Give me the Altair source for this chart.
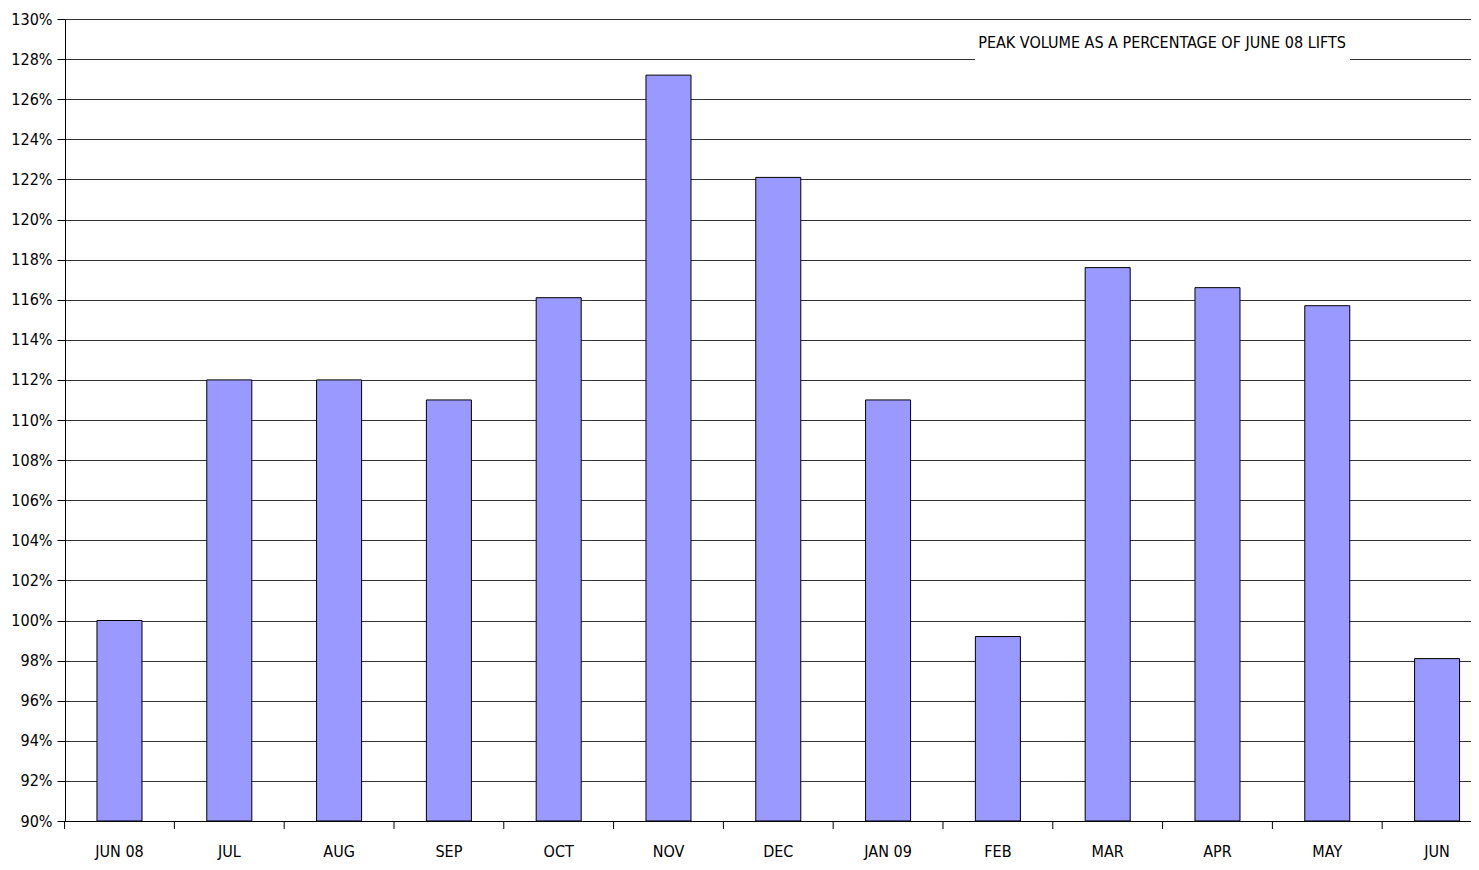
import altair as alt
import pandas as pd

months = ["JUN 08", "JUL", "AUG", "SEP", "OCT", "NOV", "DEC", "JAN 09",
          "FEB", "MAR", "APR", "MAY", "JUN"]
values = [100.0, 112.0, 112.0, 111.0, 116.1, 127.2, 122.1, 111.0,
          99.2, 117.6, 116.6, 115.7, 98.1]
y_ticks = list(range(90, 131, 2))
note = "PEAK VOLUME AS A PERCENTAGE OF JUNE 08 LIFTS"

df = pd.DataFrame({"month": months, "value": values})

FONT = "DejaVu Sans Condensed"
W, H = 1406, 802
P_IN = 0.59
STEP = 109.8

xscale = alt.Scale(domain=months, paddingInner=P_IN, paddingOuter=0.1976, align=0.737)
yscale = alt.Scale(domain=[90, 130], zero=False, nice=False)

bars = alt.Chart(df).mark_bar(
    color="#9999FF", stroke="#000000", strokeWidth=1, clip=True
).encode(
    x=alt.X("month:N", sort=months, scale=xscale,
            axis=alt.Axis(title=None, labelAngle=0, ticks=False, domain=True,
                          domainColor="#000000", labelFont=FONT, labelFontSize=16,
                          labelColor="#000000", labelPadding=22, grid=False)),
    y=alt.Y("value:Q", scale=yscale,
            axis=alt.Axis(title=None, values=y_ticks, labelExpr="datum.value + '%'",
                          grid=True, gridColor="#333333", gridWidth=1,
                          tickColor="#000000", tickSize=8, domainColor="#000000",
                          labelFont=FONT, labelFontSize=16, labelColor="#000000",
                          labelPadding=5)),
    y2=alt.datum(90),
)

xticks = alt.Chart(df).mark_rule(
    color="#000000", strokeWidth=1, xOffset=-P_IN * STEP / 2
).encode(
    x=alt.X("month:N", sort=months, scale=xscale, bandPosition=0),
    y=alt.value(H),
    y2=alt.value(H + 8),
)

note_df = pd.DataFrame({"label": [note]})
box = alt.Chart(note_df).mark_rect(color="white").encode(
    x=alt.value(910), x2=alt.value(1285), y=alt.value(12), y2=alt.value(42)
)
text = alt.Chart(note_df).mark_text(
    font=FONT, fontSize=16, color="#000000", align="center", baseline="middle"
).encode(
    text="label:N", x=alt.value(1097), y=alt.value(24)
)

chart = alt.layer(bars, xticks, box, text).properties(
    width=W, height=H,
    autosize=alt.AutoSizeParams(type="none"),
    padding={"left": 57, "top": 11, "right": 0, "bottom": 41},
).configure_view(stroke=None).configure_axis(domainWidth=1)

chart.save("out.html", embed_options={"renderer": "svg", "actions": False})
